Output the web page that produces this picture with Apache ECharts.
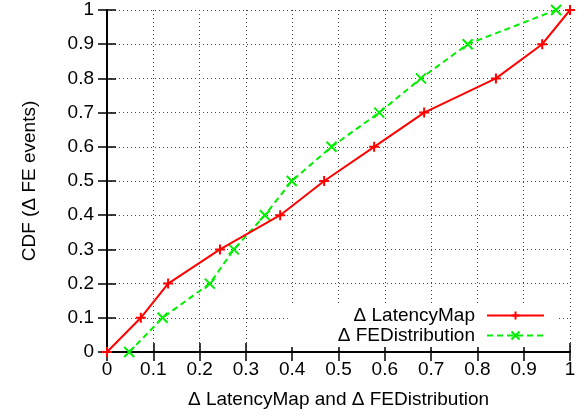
<!DOCTYPE html>
<html>
<head>
<meta charset="utf-8">
<script src="https://cdn.jsdelivr.net/npm/echarts@6/dist/echarts.min.js"></script>
<style>html,body{margin:0;padding:0;background:#fff;}#c{width:584px;height:418px;}</style>
</head>
<body>
<div id="c"></div>
<script>
const cdfLevels = [0, 0.1, 0.2, 0.3, 0.4, 0.5, 0.6, 0.7, 0.8, 0.9, 1.0];
const latencyMapX = [0, 0.073, 0.132, 0.244, 0.374, 0.469, 0.577, 0.685, 0.840, 0.940, 1.0];
const feDistributionX = [0.048, 0.120, 0.222, 0.274, 0.341, 0.399, 0.485, 0.588, 0.678, 0.779, 0.970];
const seriesNames = ['\u0394 LatencyMap', '\u0394 FEDistribution'];
const xAxisTitle = '\u0394 LatencyMap and \u0394 FEDistribution';
const yAxisTitle = 'CDF (\u0394 FE events)';

const FONT = "'Liberation Sans', Arial, Helvetica, sans-serif";
const fmt = v => (v === 0 ? '0' : v === 1 ? '1' : v.toFixed(1));
const pair = (xs) => xs.map((x, i) => [x, cdfLevels[i]]);

const chart = echarts.init(document.getElementById('c'), null, {renderer: 'canvas'});
const tickStyle = {show: true, inside: true, length: 9, lineStyle: {color: '#000', width: 1.5}};
const lineStyleAxis = {show: true, lineStyle: {color: '#000', width: 2}};
const gridLine = {show: true, lineStyle: {color: '#444', width: 1, type: [1, 3]}};

chart.setOption({
  animation: false,
  backgroundColor: '#fff',
  grid: {left: 107, right: 14, top: 10, bottom: 66},
  legend: {
    orient: 'vertical',
    align: 'right',
    right: 25,
    top: 303,
    padding: [3, 14, 2, 50],
    backgroundColor: '#fff',
    itemWidth: 57,
    itemHeight: 10,
    itemGap: 1,
    textStyle: {fontFamily: FONT, fontSize: 19, color: '#000', padding: [0, 7, 0, 0]},
    data: seriesNames
  },
  xAxis: [
    {
      type: 'value', min: 0, max: 1, interval: 0.1, position: 'bottom',
      name: xAxisTitle, nameLocation: 'middle', nameGap: 38,
      nameTextStyle: {fontFamily: FONT, fontSize: 19, color: '#000'},
      axisLine: lineStyleAxis, axisTick: tickStyle,
      axisLabel: {formatter: fmt, fontFamily: FONT, fontSize: 19, color: '#000', margin: 8},
      splitLine: gridLine
    },
    {
      type: 'value', min: 0, max: 1, interval: 0.1, position: 'top',
      axisLine: lineStyleAxis, axisTick: tickStyle,
      axisLabel: {show: false}, splitLine: {show: false}
    }
  ],
  yAxis: [
    {
      type: 'value', min: 0, max: 1, interval: 0.1, position: 'left',
      name: yAxisTitle, nameLocation: 'middle', nameGap: 68, nameRotate: 90,
      nameTextStyle: {fontFamily: FONT, fontSize: 19, color: '#000'},
      axisLine: lineStyleAxis, axisTick: tickStyle,
      axisLabel: {formatter: fmt, fontFamily: FONT, fontSize: 19, color: '#000', margin: 13},
      splitLine: gridLine
    },
    {
      type: 'value', min: 0, max: 1, interval: 0.1, position: 'right',
      axisLine: lineStyleAxis, axisTick: tickStyle,
      axisLabel: {show: false}, splitLine: {show: false}
    }
  ],
  series: [
    {
      name: seriesNames[0], type: 'line', xAxisIndex: 0, yAxisIndex: 0,
      data: pair(latencyMapX), clip: false,
      symbol: 'path://M5,0L5,10M0,5L10,5', symbolSize: 10, showAllSymbol: true,
      lineStyle: {color: '#ff0000', width: 2},
      itemStyle: {color: '#ff0000', borderColor: '#ff0000', borderWidth: 2},
      z: 5
    },
    {
      name: seriesNames[1], type: 'line', xAxisIndex: 0, yAxisIndex: 0,
      data: pair(feDistributionX), clip: false,
      symbol: 'path://M0,0L10,10M10,0L0,10', symbolSize: 10, showAllSymbol: true,
      lineStyle: {color: '#00ee00', width: 2, type: [6, 4]},
      itemStyle: {color: '#00ee00', borderColor: '#00ee00', borderWidth: 2},
      z: 4
    }
  ]
});
</script>
</body>
</html>
